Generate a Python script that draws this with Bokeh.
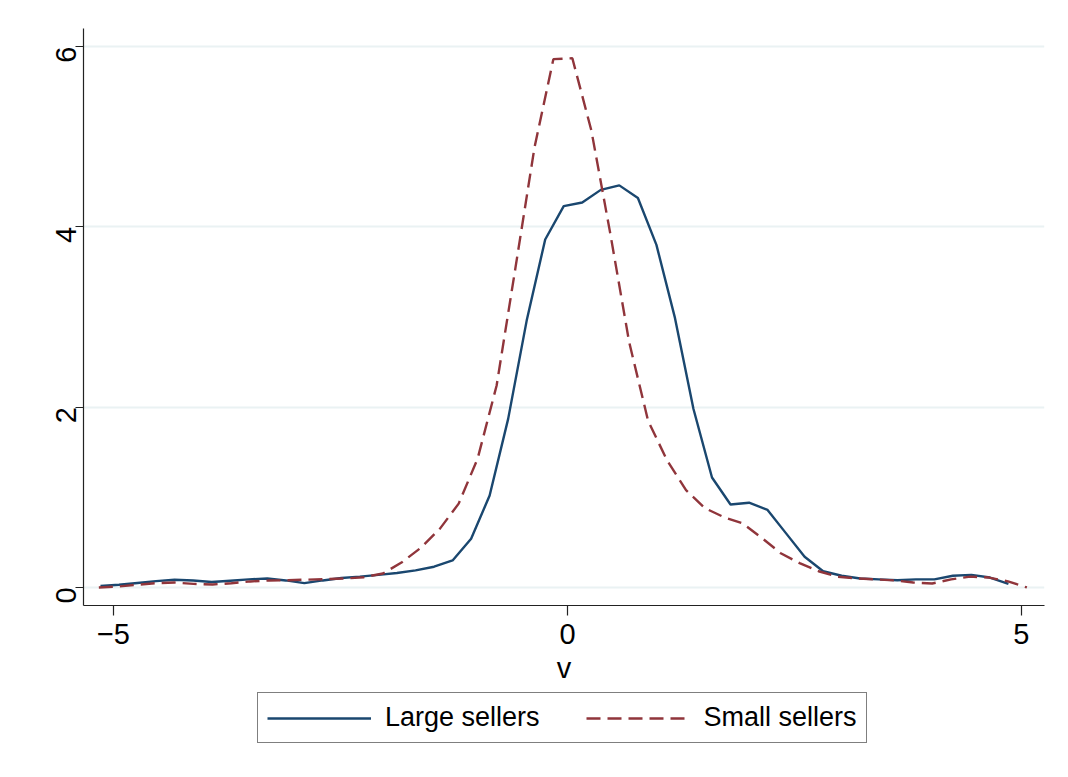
import math
from bokeh.plotting import figure
from bokeh.layouts import column
from bokeh.models import Range1d, FixedTicker, Legend, LegendItem, ColumnDataSource
from bokeh.embed import file_html
from bokeh.resources import INLINE

# ---- data ----
large_x = [-5.143, -4.939, -4.735, -4.531, -4.327, -4.122, -3.918, -3.714, -3.510, -3.306,
           -3.102, -2.898, -2.694, -2.490, -2.286, -2.082, -1.878, -1.673, -1.469, -1.265,
           -1.061, -0.857, -0.653, -0.449, -0.245, -0.041, 0.163, 0.367, 0.571, 0.776,
           0.980, 1.184, 1.388, 1.592, 1.796, 2.000, 2.204, 2.408, 2.612, 2.816,
           3.020, 3.224, 3.429, 3.633, 3.837, 4.041, 4.245, 4.449, 4.653, 4.857]
large_y = [0.017, 0.03, 0.05, 0.07, 0.085, 0.078, 0.06, 0.075, 0.09, 0.10,
           0.078, 0.048, 0.078, 0.105, 0.12, 0.14, 0.16, 0.19, 0.23, 0.30,
           0.54, 1.02, 1.87, 2.96, 3.86, 4.23, 4.27, 4.41, 4.46, 4.32,
           3.80, 2.99, 1.98, 1.22, 0.92, 0.94, 0.86, 0.60, 0.34, 0.18,
           0.13, 0.10, 0.09, 0.08, 0.09, 0.09, 0.13, 0.14, 0.11, 0.04]

small_x = [-5.161, -4.952, -4.744, -4.535, -4.327, -4.118, -3.909, -3.701, -3.492, -3.284,
           -3.075, -2.866, -2.658, -2.449, -2.241, -2.032, -1.823, -1.615, -1.406, -1.198,
           -0.989, -0.780, -0.572, -0.363, -0.155, 0.054, 0.263, 0.471, 0.680, 0.888,
           1.097, 1.306, 1.514, 1.723, 1.931, 2.140, 2.349, 2.557, 2.766, 2.974,
           3.183, 3.392, 3.600, 3.809, 4.017, 4.226, 4.435, 4.643, 4.852, 5.060]
small_y = [0.0, 0.01, 0.03, 0.047, 0.055, 0.04, 0.033, 0.047, 0.067, 0.078,
           0.08, 0.087, 0.092, 0.10, 0.114, 0.155, 0.28, 0.44, 0.65, 0.93,
           1.43, 2.24, 3.55, 4.88, 5.86, 5.87, 5.07, 3.93, 2.72, 1.85,
           1.41, 1.08, 0.88, 0.78, 0.71, 0.55, 0.38, 0.27, 0.18, 0.12,
           0.10, 0.09, 0.078, 0.055, 0.044, 0.09, 0.12, 0.11, 0.067, 0.0]

x_ticks = [-5, 0, 5]
y_ticks = [0, 2, 4, 6]
x_title = "v"
series_labels = ["Large sellers", "Small sellers"]

FONT = "Liberation Sans"
BLUE = "#1a476f"
RED = "#90353b"
DASH = "14 7"

# ---------------- main plot ----------------
p = figure(frame_width=961, frame_height=577, output_backend="svg", toolbar_location=None,
           x_range=Range1d(-5.33, 5.254), y_range=Range1d(-0.2, 6.2),
           min_border_left=83, min_border_right=24, min_border_top=28, min_border_bottom=87)
p.background_fill_color = "white"
p.border_fill_color = "white"
p.outline_line_color = None

p.xgrid.grid_line_color = None
p.ygrid.grid_line_color = "#eaf2f3"
p.ygrid.grid_line_width = 2
p.ygrid.ticker = FixedTicker(ticks=y_ticks)

for ax in (p.xaxis[0], p.yaxis[0]):
    ax.axis_line_color = "#222222"
    ax.axis_line_width = 1.2
    ax.major_tick_line_color = "#222222"
    ax.major_tick_line_width = 1.2
    ax.minor_tick_line_color = None
    ax.major_tick_in = 0
    ax.major_label_text_font = FONT
    ax.major_label_text_font_size = "29px"
    ax.major_label_text_color = "black"
    ax.axis_label_text_font = FONT
    ax.axis_label_text_font_style = "normal"
    ax.axis_label_text_color = "black"

p.xaxis.ticker = FixedTicker(ticks=x_ticks)
p.xaxis.major_tick_out = 10
p.xaxis.major_label_standoff = 8
p.xaxis.axis_label = x_title
p.xaxis.axis_label_text_font_size = "29px"
p.xaxis.axis_label_standoff = 5

p.yaxis.ticker = FixedTicker(ticks=y_ticks)
p.yaxis.major_tick_out = 8
p.yaxis.major_label_standoff = 10
p.yaxis.major_label_orientation = math.pi / 2

src_l = ColumnDataSource(dict(x=large_x, y=large_y))
src_s = ColumnDataSource(dict(x=small_x, y=small_y))
p.line("x", "y", source=src_l, line_color=BLUE, line_width=2.4)
p.line("x", "y", source=src_s, line_color=RED, line_width=2.4, line_dash=DASH)

# ---------------- legend strip ----------------
lg = figure(width=1068, height=85, output_backend="svg", toolbar_location=None,
            x_range=Range1d(100, 101), y_range=Range1d(100, 101),
            x_axis_location=None, y_axis_location=None,
            min_border_left=0, min_border_right=0, min_border_top=0, min_border_bottom=0)
lg.grid.visible = False
lg.outline_line_color = None
lg.background_fill_color = "white"
lg.border_fill_color = "white"
k1 = lg.line("x", "y", source=src_l, line_color=BLUE, line_width=2.4)
k2 = lg.line("x", "y", source=src_s, line_color=RED, line_width=2.4, line_dash=DASH)

legend = Legend(items=[LegendItem(label=series_labels[0], renderers=[k1]),
                       LegendItem(label=series_labels[1], renderers=[k2])],
                orientation="horizontal", location=(174, 34))
legend.label_text_font = FONT
legend.label_text_font_size = "27px"
legend.label_text_color = "black"
legend.glyph_width = 104
legend.glyph_height = 30
legend.label_height = 30
legend.label_standoff = 14
legend.spacing = 46
legend.padding = 9
legend.margin = 0
legend.border_line_color = "black"
legend.border_line_width = 1
legend.background_fill_color = "white"
legend.background_fill_alpha = 1
lg.add_layout(legend, "center")

layout = column(p, lg, spacing=0)
open("out.html", "w").write(file_html(layout, INLINE))
